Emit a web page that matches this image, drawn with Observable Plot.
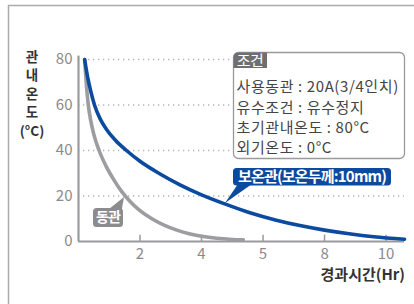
<!DOCTYPE html>
<html><head><meta charset="utf-8">
<script src="https://cdn.jsdelivr.net/npm/d3@7"></script>
<script src="https://cdn.jsdelivr.net/npm/@observablehq/plot@0.6"></script>
<style>body{margin:0;background:#fff}svg{display:block}</style>
</head><body><div id="chart"></div>
<script>
// 동관 (bare copper pipe)
const copperTime = [0.2, 0.25, 0.31, 0.4, 0.5, 0.67, 0.9, 1.13, 1.4, 1.7, 2.0, 2.4, 2.8, 3.2, 3.6, 4.0, 4.5, 5.0, 5.36];
const copperTemp = [80, 70, 61, 53, 47, 40, 33, 27.5, 22, 17.3, 13.6, 9.9, 7.1, 5.0, 3.4, 2.3, 1.4, 0.9, 0.7];
// 보온관 (insulated, 10mm)
const insulTime = [0.2, 0.3, 0.4, 0.52, 0.7, 0.9, 1.2, 1.56, 2.0, 2.64, 3.3, 4.0, 4.8, 5.6, 6.4, 7.2, 8.0, 8.8, 9.6, 10.6];
const insulTemp = [80, 72, 66, 60, 54, 49.5, 44.5, 40, 35.3, 29.8, 24.9, 20.5, 16.3, 12.5, 9.5, 7.0, 5.0, 3.4, 2.1, 1.0];

const xTicks = [2, 4, 6, 8, 10];
const xTickLabels = ["2", "4", "5", "8", "10"];
const yTicks = [0, 20, 40, 60, 80];
const yTitleChars = ["관", "내", "온", "도", "(°C)"];
const xTitle = "경과시간(Hr)";
const conditionTitle = "조건";
const conditionLines = ["사용동관 : 20A(3/4인치)", "유수조건 : 유수정지", "초기관내온도 : 80°C", "외기온도 : 0°C"];
const insulLabel = "보온관(보온두께:10mm)";
const copperLabel = "동관";

const copper = copperTime.map((t, i) => ({t, v: copperTemp[i]}));
const insul = insulTime.map((t, i) => ({t, v: insulTemp[i]}));

const FONT = "'Noto Sans CJK KR', 'Noto Sans', sans-serif";
const BLUE = "#0b4a9e", GRAY = "#9c9ca1", AXIS = "#9a9a9e";

const chart = Plot.plot({
  width: 414, height: 304,
  marginLeft: 78, marginRight: 10, marginTop: 59, marginBottom: 63,
  style: {fontFamily: FONT, fontSize: "15px", background: "#fff", overflow: "visible"},
  x: {domain: [0, 10.6], label: null},
  y: {domain: [0, 80], label: null},
  marks: [
    Plot.ruleY(yTicks.filter(d => d > 0), {stroke: "#b4b4b4", strokeWidth: 1.3, strokeDasharray: "1.3,3.7"}),
    Plot.axisY(yTicks, {tickSize: 0, tickPadding: 6, fill: "#8a8a8e", fontSize: 15, label: null}),
    Plot.axisX(xTicks, {tickSize: 0, tickPadding: 7, tickFormat: (d, i) => xTickLabels[i], fill: "#8a8a8e", fontSize: 15, label: null}),
    Plot.ruleX(xTicks, {y1: 0, y2: 2.8, stroke: AXIS, strokeWidth: 1.5}),
    Plot.ruleY([0], {x1: 0, x2: 10.6, stroke: AXIS, strokeWidth: 2.2}),
    Plot.ruleX([0], {y1: 0, y2: 81.5, stroke: AXIS, strokeWidth: 2.2}),
    Plot.line(copper, {x: "t", y: "v", stroke: GRAY, strokeWidth: 3.6, curve: "monotone-x"}),
    Plot.line(insul, {x: "t", y: "v", stroke: BLUE, strokeWidth: 3.6, curve: "monotone-x"})
  ]
});
document.getElementById("chart").append(chart);

const svg = d3.select(chart);
// outer frame
svg.append("path").attr("d", "M8.5,304 V5.5 H414").attr("fill", "none").attr("stroke", "#ababab").attr("stroke-width", 1.5);

// y title (stacked)
const yT = svg.append("g").attr("font-family", FONT).attr("font-size", 13.5).attr("font-weight", 700).attr("fill", "#333").attr("text-anchor", "middle");
const yPos = [57, 75.5, 94, 112.5, 131];
yTitleChars.forEach((c, i) => yT.append("text").attr("x", 32).attr("y", yPos[i]).attr("dy", "0.35em").text(c));

// x title
svg.append("text").attr("x", 405).attr("y", 275).attr("dy", "0.35em").attr("text-anchor", "end")
  .attr("font-family", FONT).attr("font-size", 15).attr("font-weight", 600).attr("fill", "#333").text(xTitle);

// condition box
const cb = svg.append("g").attr("font-family", FONT).attr("text-anchor", "start");
cb.append("rect").attr("x", 233.5).attr("y", 52.5).attr("width", 171).attr("height", 106).attr("rx", 5)
  .attr("fill", "#fff").attr("stroke", "#9a9a9a").attr("stroke-width", 1.3);
cb.append("path").attr("d", "M233.5,68 V57.5 Q233.5,52.5 238.5,52.5 H267 V68 Z").attr("fill", "#6f6f72");
cb.append("text").attr("x", 250).attr("y", 60.5).attr("dy", "0.35em").attr("text-anchor", "middle")
  .attr("font-size", 15).attr("fill", "#fff").attr("letter-spacing", -0.5).text(conditionTitle);
const lineY = [87, 107.5, 128, 148];
conditionLines.forEach((s, i) => cb.append("text").attr("x", 236.5).attr("y", lineY[i]).attr("dy", "0.35em")
  .attr("text-anchor", "start").attr("font-size", 15).attr("fill", "#444").attr("letter-spacing", 0.6).text(s));

// blue label
const bl = svg.append("g").attr("font-family", FONT);
bl.append("path").attr("d", "M238,184 L225,203 L252,184 Z").attr("fill", BLUE);
bl.append("rect").attr("x", 233).attr("y", 168).attr("width", 158).attr("height", 17.5).attr("rx", 3.5).attr("fill", BLUE);
bl.append("text").attr("x", 312).attr("y", 176.8).attr("dy", "0.35em").attr("text-anchor", "middle")
  .attr("font-size", 15).attr("font-weight", 700).attr("fill", "#fff").attr("letter-spacing", -0.8).text(insulLabel);

// gray label
const gl = svg.append("g").attr("font-family", FONT);
gl.append("path").attr("d", "M109,209 L124,197 L121,214 Z").attr("fill", "#8c8c90");
gl.append("rect").attr("x", 93).attr("y", 208).attr("width", 30).attr("height", 19).attr("rx", 3.5).attr("fill", "#8c8c90");
gl.append("text").attr("x", 108).attr("y", 217.5).attr("dy", "0.35em").attr("text-anchor", "middle")
  .attr("font-size", 14).attr("font-weight", 700).attr("fill", "#fff").attr("letter-spacing", -0.8).text(copperLabel);
</script>
</body></html>
